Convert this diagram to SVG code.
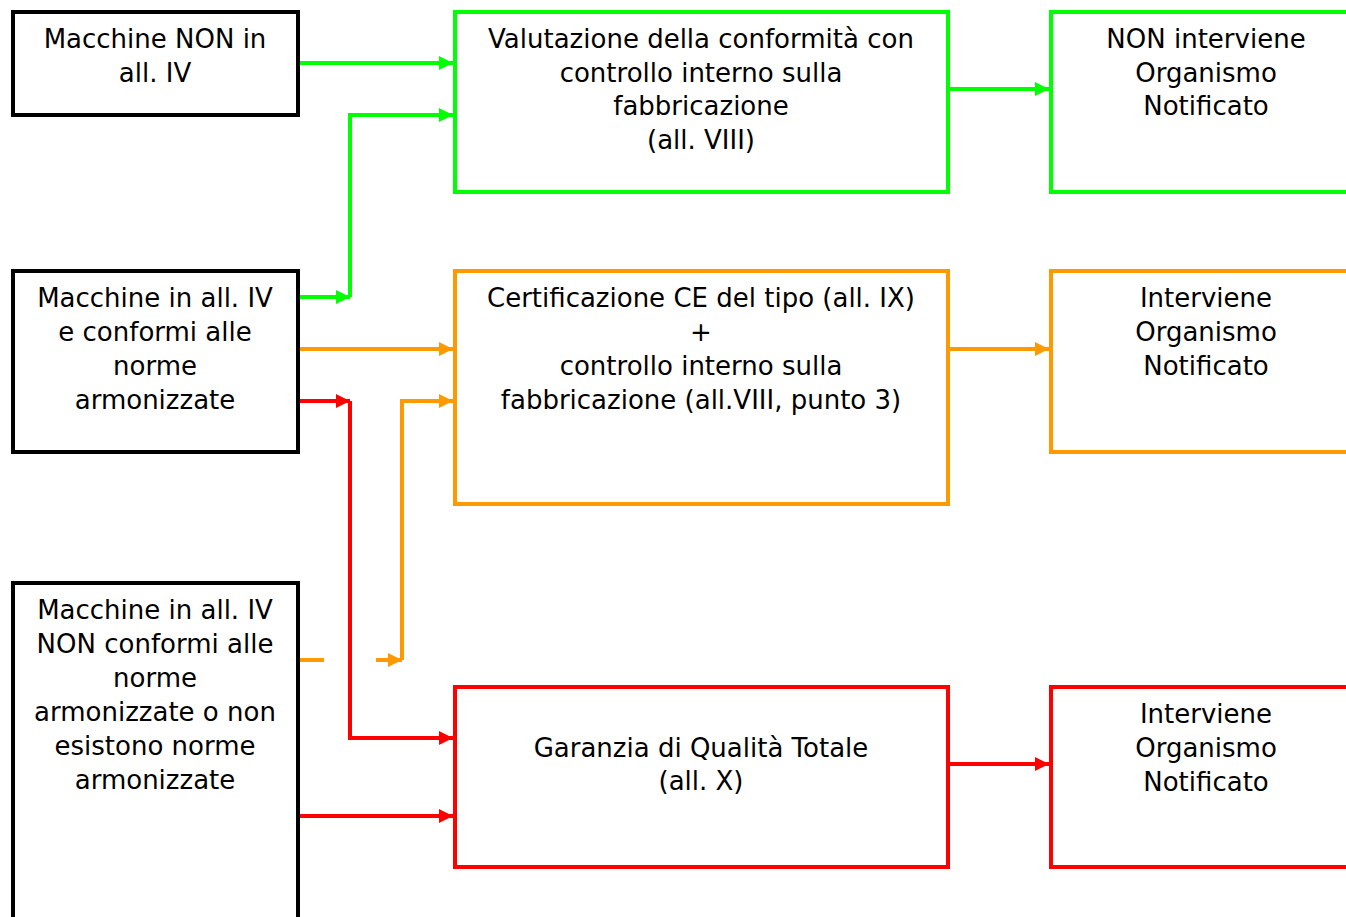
<svg xmlns="http://www.w3.org/2000/svg" width="1346" height="917" viewBox="0 0 1346 917">
<style>
.box{fill:#fff;stroke-width:4}
.k{stroke:#000}.g{stroke:#00ff00}.o{stroke:#ff9900}.r{stroke:#ff0000}
text{font-family:"DejaVu Sans","Open Sans",sans-serif;font-size:26px;fill:#000;text-anchor:middle}
.c path{fill:none;stroke-width:4}
</style>
<defs>
<marker id="ag" markerWidth="14" markerHeight="14" refX="14" refY="7" orient="auto" markerUnits="userSpaceOnUse"><path d="M0,0L14,7L0,14z" fill="#00ff00"/></marker>
<marker id="ao" markerWidth="14" markerHeight="14" refX="14" refY="7" orient="auto" markerUnits="userSpaceOnUse"><path d="M0,0L14,7L0,14z" fill="#ff9900"/></marker>
<marker id="ar" markerWidth="14" markerHeight="14" refX="14" refY="7" orient="auto" markerUnits="userSpaceOnUse"><path d="M0,0L14,7L0,14z" fill="#ff0000"/></marker>
</defs>
<rect width="1346" height="917" fill="#fff"/>
<g id="n1"><rect class="box k" x="13" y="12" width="285" height="103"/><text><tspan x="155" y="48">Macchine NON in</tspan><tspan x="155" y="82">all. IV</tspan></text></g>
<g id="n2"><rect class="box k" x="13" y="271" width="285" height="181"/><text><tspan x="155" y="307">Macchine in all. IV</tspan><tspan x="155" y="341">e conformi alle</tspan><tspan x="155" y="375">norme</tspan><tspan x="155" y="409">armonizzate</tspan></text></g>
<g id="n3"><rect class="box k" x="13" y="583" width="285" height="340"/><text><tspan x="155" y="619">Macchine in all. IV</tspan><tspan x="155" y="653">NON conformi alle</tspan><tspan x="155" y="687">norme</tspan><tspan x="155" y="721">armonizzate o non</tspan><tspan x="155" y="755">esistono norme</tspan><tspan x="155" y="789">armonizzate</tspan></text></g>
<g id="n4"><rect class="box g" x="455" y="12" width="493" height="180"/><text><tspan x="701" y="48">Valutazione della conformità con</tspan><tspan x="701" y="82">controllo interno sulla</tspan><tspan x="701" y="115">fabbricazione</tspan><tspan x="701" y="149">(all. VIII)</tspan></text></g>
<g id="n5"><rect class="box o" x="455" y="271" width="493" height="233"/><text><tspan x="701" y="307">Certificazione CE del tipo (all. IX)</tspan><tspan x="701" y="341">+</tspan><tspan x="701" y="375">controllo interno sulla</tspan><tspan x="701" y="409">fabbricazione (all.VIII, punto 3)</tspan></text></g>
<g id="n6"><rect class="box r" x="455" y="687" width="493" height="180"/><text><tspan x="701" y="757">Garanzia di Qualità Totale</tspan><tspan x="701" y="790">(all. X)</tspan></text></g>
<g id="n7"><rect class="box g" x="1051" y="12" width="310" height="180"/><text><tspan x="1206" y="48">NON interviene</tspan><tspan x="1206" y="82">Organismo</tspan><tspan x="1206" y="115">Notificato</tspan></text></g>
<g id="n8"><rect class="box o" x="1051" y="271" width="310" height="181"/><text><tspan x="1206" y="307">Interviene</tspan><tspan x="1206" y="341">Organismo</tspan><tspan x="1206" y="375">Notificato</tspan></text></g>
<g id="n9"><rect class="box r" x="1051" y="687" width="310" height="180"/><text><tspan x="1206" y="723">Interviene</tspan><tspan x="1206" y="757">Organismo</tspan><tspan x="1206" y="791">Notificato</tspan></text></g>
<g id="connectors" class="c">
<path d="M300,63H453" stroke="#00ff00" marker-end="url(#ag)"/>
<path d="M300,297H350" stroke="#00ff00" marker-end="url(#ag)"/>
<path d="M350,297V115H453" stroke="#00ff00" marker-end="url(#ag)"/>
<path d="M948,89H1049" stroke="#00ff00" marker-end="url(#ag)"/>
<path d="M300,349H453" stroke="#ff9900" marker-end="url(#ao)"/>
<path d="M300,660H324" stroke="#ff9900"/>
<path d="M376,660H402" stroke="#ff9900" marker-end="url(#ao)"/>
<path d="M402,660V401H453" stroke="#ff9900" marker-end="url(#ao)"/>
<path d="M948,349H1049" stroke="#ff9900" marker-end="url(#ao)"/>
<path d="M300,401H350" stroke="#ff0000" marker-end="url(#ar)"/>
<path d="M350,401V738H453" stroke="#ff0000" marker-end="url(#ar)"/>
<path d="M300,816H453" stroke="#ff0000" marker-end="url(#ar)"/>
<path d="M948,764H1049" stroke="#ff0000" marker-end="url(#ar)"/>
</g>
</svg>
